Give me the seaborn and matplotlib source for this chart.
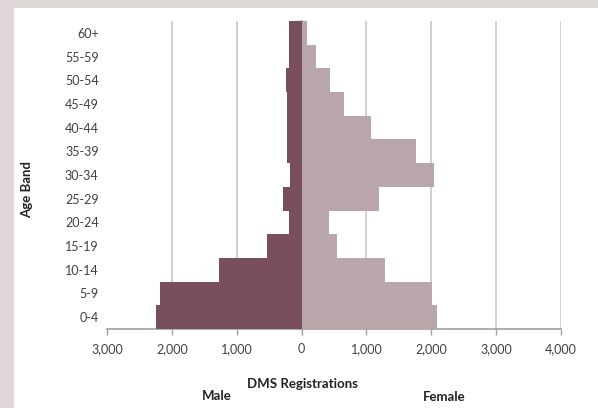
import matplotlib
matplotlib.use("Agg")
import matplotlib.pyplot as plt
import seaborn as sns
import pandas as pd
from matplotlib.ticker import FuncFormatter, FixedLocator

age_bands = ["60+", "55-59", "50-54", "45-49", "40-44", "35-39", "30-34",
             "25-29", "20-24", "15-19", "10-14", "5-9", "0-4"]
male = [200, 200, 240, 220, 220, 220, 180, 280, 190, 540, 1270, 2180, 2240]
female = [80, 230, 446, 650, 1077, 1760, 2035, 1195, 425, 540, 1287, 2015, 2092]
x_ticks = [-3000, -2000, -1000, 0, 1000, 2000, 3000, 4000]

sns.set_theme(style="white")
plt.rcParams['font.family'] = ['Lato', 'DejaVu Sans']

df = pd.DataFrame({"age": age_bands,
                   "male": [-v for v in male],
                   "female": female})

fig = plt.figure(figsize=(5.98, 4.08), dpi=100)
fig.patch.set_facecolor("#e0d7d9")
# white panel
fig.patches.append(plt.Rectangle((14/598, 0), 1, 1 - 8/408, transform=fig.transFigure,
                                 facecolor="white", edgecolor="none", zorder=-10))

ax = fig.add_axes([107/598, 1 - 329/408, (561-107)/598, (329-21)/408])
ax.set_zorder(5)
ax.set_facecolor("none")

sns.barplot(data=df, y="age", x="male", order=age_bands, orient="h",
            color="#7a4f5d", width=1.0, saturation=1, ax=ax, zorder=3,
            linewidth=0, edgecolor="none")
sns.barplot(data=df, y="age", x="female", order=age_bands, orient="h",
            color="#b9a6aa", width=1.0, saturation=1, ax=ax, zorder=3,
            linewidth=0, edgecolor="none")

ax.set_xlim(-3000, 4000)
ax.set_ylim(12.5, -0.5)
ax.xaxis.set_major_locator(FixedLocator(x_ticks))
ax.xaxis.set_major_formatter(FuncFormatter(lambda v, p: f"{abs(int(v)):,}"))
for v in x_ticks:
    if v not in (-3000, 0):
        ax.axvline(v, color="#c4c4c4", lw=1.1, zorder=1)

for s in ["top", "right", "left"]:
    ax.spines[s].set_visible(False)
ax.spines["bottom"].set_color("#a0a0a0")
ax.spines["bottom"].set_linewidth(1.2)
ax.tick_params(axis="x", which="major", bottom=True, length=4, width=1,
               color="#a0a0a0", labelsize=9, labelcolor="#404040", pad=6)
ax.tick_params(axis="y", which="major", left=False, length=0,
               labelsize=9, labelcolor="#404040", pad=6)
ax.set_xlabel("")
ax.set_ylabel("")

# axis line at zero with category boundary ticks
sec = ax.secondary_yaxis(3/7)
sec.spines["left"].set_color("#a0a0a0")
sec.set_yticks([i + 0.5 for i in range(-1, 12)])
sec.set_yticklabels([])
sec.tick_params(axis="y", length=4, color="#a0a0a0", width=1)

fig.text(27/598, 1 - 190/408, "Age Band", rotation=90, ha="center", va="center",
         fontsize=9.5, fontweight="bold", color="#222222")
fig.text(302/598, 1 - 384/408, "DMS Registrations", ha="center", va="center",
         fontsize=9.5, fontweight="bold", color="#222222")
fig.text(217/598, 1 - 396/408, "Male", ha="center", va="center",
         fontsize=9.5, fontweight="bold", color="#222222")
fig.text(444/598, 1 - 397/408, "Female", ha="center", va="center",
         fontsize=9.5, fontweight="bold", color="#222222")

fig.savefig("out.png", dpi=100, facecolor=fig.get_facecolor())
